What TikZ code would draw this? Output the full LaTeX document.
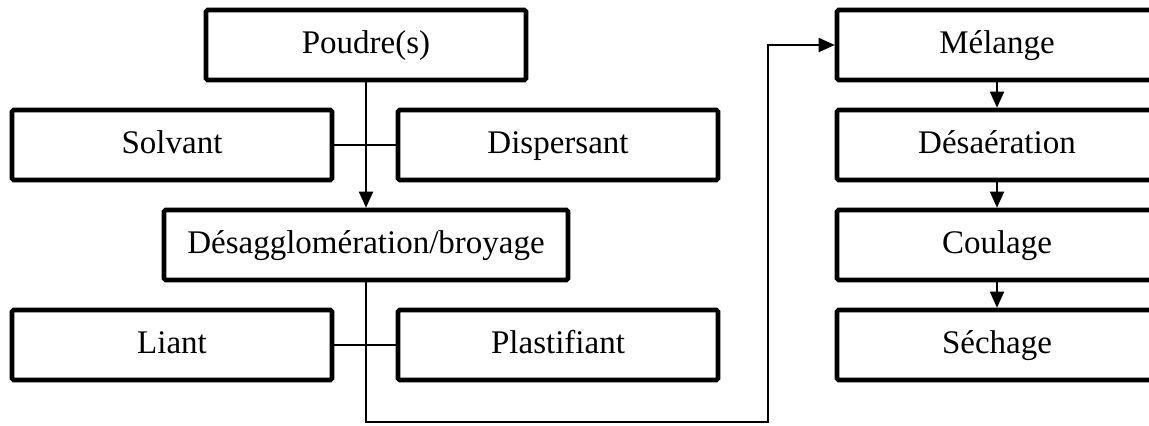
\documentclass[tikz,border=0pt]{standalone}
\usepackage{fontspec}
\setmainfont{Liberation Serif}
\usetikzlibrary{shapes,arrows.meta,positioning}

\tikzset{
	etape/.style={draw, line width=2.3pt, rounded corners=0.8pt,
		minimum width=160pt, minimum height=35pt, inner sep=0pt,
		text height=11.5pt, text depth=3.5pt,
		font=\fontsize{16.5}{19}\selectfont},
	lien/.style={line width=0.9pt},
	fleche/.style={lien, -{Triangle[length=8pt,width=7pt]}}
}

\begin{document}
\begin{tikzpicture}[x=0.5pt,y=-0.5pt]
	\useasboundingbox (0,0) rectangle (1149,425);
	% colonne de gauche
	\node[etape] (poudre) at (366,45) {Poudre(s)};
	\node[etape] (solvant) at (172,145) {Solvant};
	\node[etape] (dispersant) at (558,145) {Dispersant};
	\node[etape, minimum width=202pt] (desagglo) at (366,245) {Désagglomération/broyage};
	\node[etape] (liant) at (172,345) {Liant};
	\node[etape] (plastifiant) at (558,345) {Plastifiant};
	% colonne de droite
	\node[etape] (melange) at (997,45) {Mélange};
	\node[etape] (desaeration) at (997,145) {Désaération};
	\node[etape] (coulage) at (997,245) {Coulage};
	\node[etape] (sechage) at (997,345) {Séchage};
	\coordinate (bas1) at (366,422);
	\coordinate (bas2) at (768,422);
	\draw[fleche] (poudre.south) -- (desagglo.north);
	\draw[lien] (solvant.east) -- (dispersant.west);
	\draw[lien] (liant.east) -- (plastifiant.west);
	\draw[fleche] (desagglo.south) -- (bas1) -- (bas2) |- (melange.west);
	\draw[fleche] (melange) -- (desaeration);
	\draw[fleche] (desaeration) -- (coulage);
	\draw[fleche] (coulage) -- (sechage);
\end{tikzpicture}
\end{document}
